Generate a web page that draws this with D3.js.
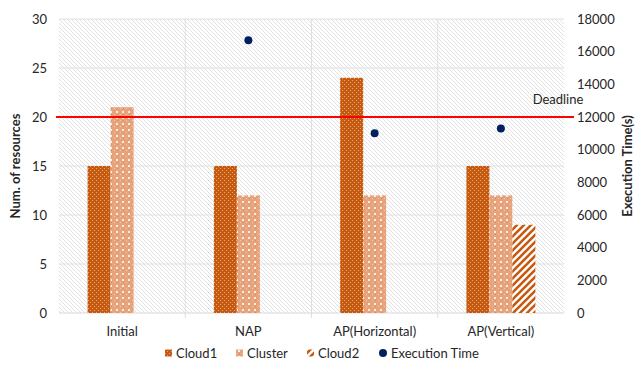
<!DOCTYPE html>
<html>
<head>
<meta charset="utf-8">
<script src="https://cdn.jsdelivr.net/npm/d3@7"></script>
<style>
  body { margin: 0; background: #fff; }
  text { font-family: Lato, "Open Sans", sans-serif; fill: #262626; }
</style>
</head>
<body>
<svg id="chart" width="640" height="371"></svg>
<script>
// chart data
const categories = ["Initial", "NAP", "AP(Horizontal)", "AP(Vertical)"];
const cloud1 = [15, 15, 24, 15];
const cluster = [21, 12, 12, 12];
const cloud2 = [null, null, null, 9];
const execTime = [null, 16700, 11000, 11300];
const deadline = 20;
const leftTicks = [0, 5, 10, 15, 20, 25, 30];
const rightTicks = [0, 2000, 4000, 6000, 8000, 10000, 12000, 14000, 16000, 18000];
const seriesNames = ["Cloud1", "Cluster", "Cloud2"];

const svg = d3.select("#chart");
const plotLeft = 59, plotRight = 564, plotTop = 19, plotBottom = 313;

// patterns
const defs = svg.append("defs");

const bg = defs.append("pattern").attr("id", "bgHatch")
    .attr("patternUnits", "userSpaceOnUse").attr("width", 4).attr("height", 4);
bg.append("rect").attr("width", 4).attr("height", 4).attr("fill", "#fff");
bg.append("path").attr("d", "M-1,-1 L5,5 M-1,3 L1,5 M3,-1 L5,1")
    .attr("stroke", "#e2e2e2").attr("stroke-width", 1);

const p1 = defs.append("pattern").attr("id", "pCloud1")
    .attr("patternUnits", "userSpaceOnUse").attr("width", 4).attr("height", 4);
p1.append("rect").attr("width", 4).attr("height", 4).attr("fill", "#c55a11");
p1.append("rect").attr("x", 0).attr("y", 0).attr("width", 1).attr("height", 1).attr("fill", "#e9a578");
p1.append("rect").attr("x", 2).attr("y", 2).attr("width", 1).attr("height", 1).attr("fill", "#e9a578");

const p2 = defs.append("pattern").attr("id", "pCluster")
    .attr("patternUnits", "userSpaceOnUse").attr("width", 6).attr("height", 6);
p2.append("rect").attr("width", 6).attr("height", 6).attr("fill", "#e6a37c");
p2.append("rect").attr("x", 0).attr("y", 0).attr("width", 1).attr("height", 1).attr("fill", "#f2c9ae");
p2.append("rect").attr("x", 3).attr("y", 0).attr("width", 1).attr("height", 1).attr("fill", "#d98b5c");
p2.append("rect").attr("x", 2).attr("y", 3).attr("width", 2).attr("height", 2).attr("fill", "#fbeee5");

const p3 = defs.append("pattern").attr("id", "pCloud2")
    .attr("patternUnits", "userSpaceOnUse").attr("width", 7).attr("height", 7);
p3.append("rect").attr("width", 7).attr("height", 7).attr("fill", "#fff");
p3.append("path").attr("d", "M-1,8 L8,-1 M-1,1 L1,-1 M6,8 L8,6")
    .attr("stroke", "#c55a11").attr("stroke-width", 2.6);

const fills = ["url(#pCloud1)", "url(#pCluster)", "url(#pCloud2)"];

// scales
const x = d3.scaleBand().domain(categories).range([plotLeft, plotRight]);
const y = d3.scaleLinear().domain([0, 30]).range([plotBottom, plotTop]);
const y2 = d3.scaleLinear().domain([0, 18000]).range([plotBottom, plotTop]);
const groupW = 69;
const xs = d3.scaleBand().domain(seriesNames).range([0, groupW]);

// plot background
svg.append("rect").attr("x", plotLeft).attr("y", plotTop)
    .attr("width", plotRight - plotLeft).attr("height", plotBottom - plotTop)
    .attr("fill", "url(#bgHatch)");

// gridlines
svg.append("g").selectAll("line").data(leftTicks.slice(1)).join("line")
    .attr("x1", plotLeft).attr("x2", plotRight)
    .attr("y1", d => y(d)).attr("y2", d => y(d))
    .attr("stroke", "#e0e0e0").attr("stroke-width", 1);

svg.append("g").selectAll("line").data(categories.slice(1)).join("line")
    .attr("x1", d => x(d)).attr("x2", d => x(d))
    .attr("y1", plotTop).attr("y2", plotBottom + 5)
    .attr("stroke", "#e0e0e0").attr("stroke-width", 1);

svg.append("line").attr("x1", plotLeft).attr("x2", plotRight)
    .attr("y1", plotBottom).attr("y2", plotBottom)
    .attr("stroke", "#d9d9d9");

// bars
const series = [cloud1, cluster, cloud2];
series.forEach((vals, si) => {
    svg.append("g").selectAll("rect")
        .data(categories.map((c, i) => ({ c, v: vals[i] })).filter(d => d.v != null))
        .join("rect")
        .attr("x", d => x(d.c) + (x.bandwidth() - groupW) / 2 + xs(seriesNames[si]))
        .attr("width", xs.bandwidth())
        .attr("y", d => y(d.v))
        .attr("height", d => y(0) - y(d.v))
        .attr("fill", fills[si]);
});

// deadline
svg.append("line")
    .attr("x1", plotLeft - 3).attr("x2", plotRight + 10)
    .attr("y1", y(deadline)).attr("y2", y(deadline))
    .attr("stroke", "#ff0000").attr("stroke-width", 2);
svg.append("text").attr("x", 558).attr("y", 104)
    .attr("text-anchor", "middle").style("font-size", "13px")
    .text("Deadline");

// execution time dots
svg.append("g").selectAll("circle")
    .data(categories.map((c, i) => ({ c, v: execTime[i] })).filter(d => d.v != null))
    .join("circle")
    .attr("cx", d => x(d.c) + x.bandwidth() / 2)
    .attr("cy", d => y2(d.v))
    .attr("r", 4)
    .attr("fill", "#002060");

// axes labels
svg.append("g").selectAll("text").data(leftTicks).join("text")
    .attr("x", 47).attr("y", d => y(d)).attr("dy", "0.35em")
    .attr("text-anchor", "end").style("font-size", "13px")
    .text(d => d);

svg.append("g").selectAll("text").data(rightTicks).join("text")
    .attr("x", 577).attr("y", d => y2(d)).attr("dy", "0.35em")
    .attr("text-anchor", "start").style("font-size", "13px")
    .text(d => d);

svg.append("g").selectAll("text").data(categories).join("text")
    .attr("x", d => x(d) + x.bandwidth() / 2).attr("y", 336)
    .attr("text-anchor", "middle").style("font-size", "13px")
    .text(d => d);

svg.append("text")
    .attr("transform", `translate(20,${(plotTop + plotBottom) / 2}) rotate(-90)`)
    .attr("text-anchor", "middle").style("font-size", "13px").style("font-weight", "bold")
    .text("Num. of resources");

svg.append("text")
    .attr("transform", `translate(632,${(plotTop + plotBottom) / 2}) rotate(-90)`)
    .attr("text-anchor", "middle").style("font-size", "13px").style("font-weight", "bold")
    .text("Execution Time(s)");

// legend
const legendItems = [
    { name: "Cloud1", fill: fills[0], x: 165 },
    { name: "Cluster", fill: fills[1], x: 236 },
    { name: "Cloud2", fill: fills[2], x: 307 },
    { name: "Execution Time", dot: true, x: 379 }
];
const lg = svg.append("g").selectAll("g").data(legendItems).join("g")
    .attr("transform", d => `translate(${d.x},353)`);
lg.filter(d => !d.dot).append("rect")
    .attr("x", 0).attr("y", -3.5).attr("width", 7).attr("height", 7)
    .attr("fill", d => d.fill);
lg.filter(d => d.dot).append("circle")
    .attr("cx", 4).attr("cy", 0).attr("r", 4).attr("fill", "#002060");
lg.append("text").attr("x", d => d.dot ? 12 : 11).attr("y", 0).attr("dy", "0.35em")
    .style("font-size", "13px").text(d => d.name);
</script>
</body>
</html>
